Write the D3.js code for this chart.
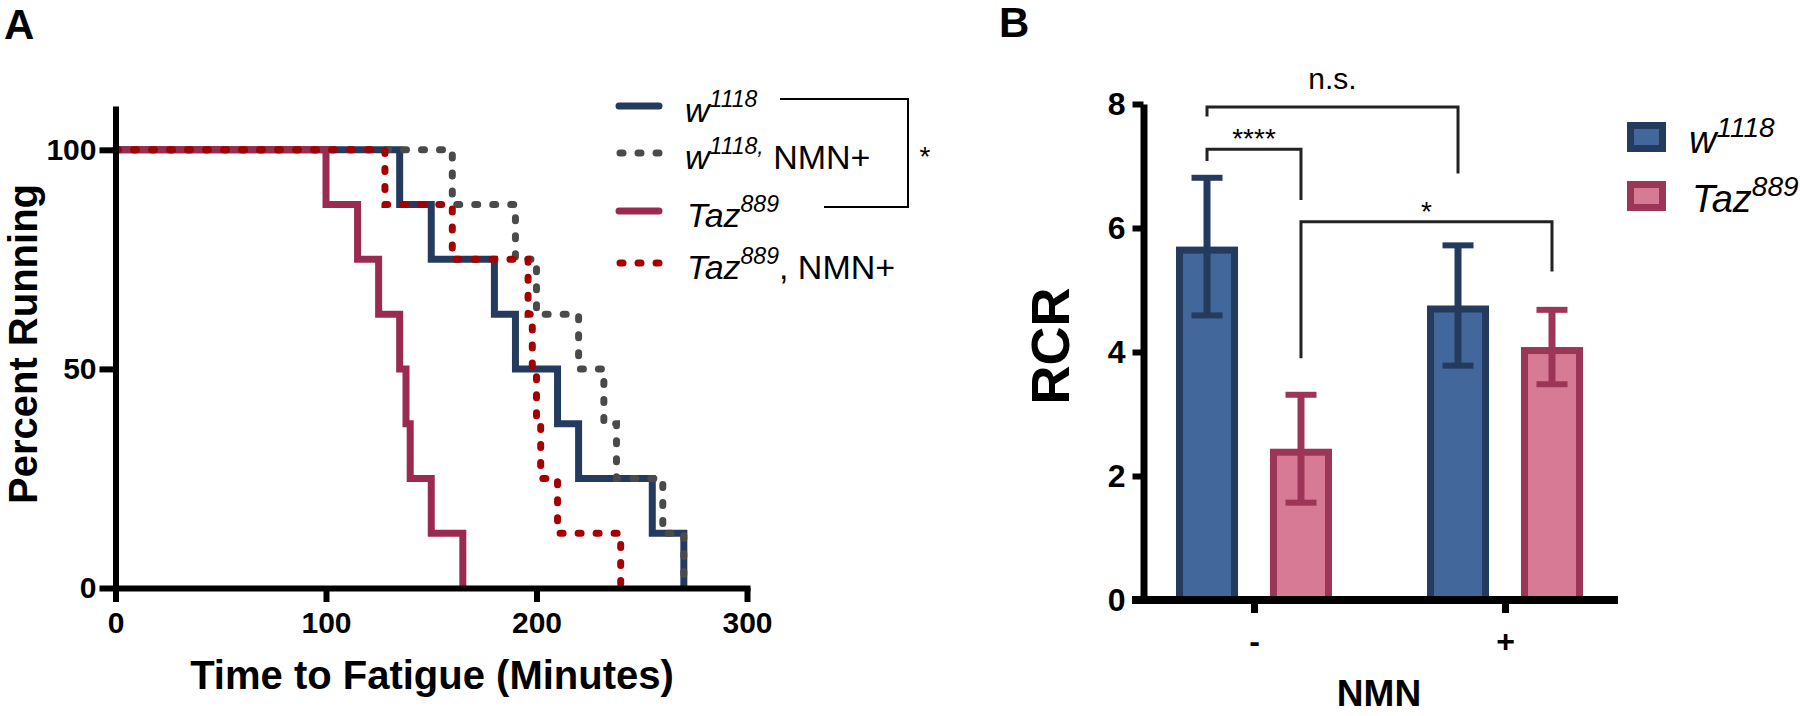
<!DOCTYPE html>
<html><head><meta charset="utf-8">
<script src="https://cdn.jsdelivr.net/npm/d3@7"></script>
<style>
body{margin:0;background:#fff}
svg{display:block}
text{font-family:"Liberation Sans",Arial,Helvetica,sans-serif;fill:#000}
</style>
</head><body>
<script>
// ---------- Panel A data (Kaplan-Meier, n = 8 per group) ----------
const survNames = ["w1118", "w1118, NMN+", "Taz889", "Taz889, NMN+"];
const w1118Times     = [0, 135, 150, 180, 190, 210, 220, 255, 270];
const w1118NmnTimes  = [0, 160, 190, 200, 220, 232, 238, 260, 270];
const taz889Times    = [0, 100, 115, 125, 135, 138, 140, 150, 165];
const taz889NmnTimes = [0, 128, 160, 196, 198, 200, 202, 210, 240];
const percentRunning = [100, 87.5, 75, 62.5, 50, 37.5, 25, 12.5, 0];
const xTicksA = [0, 100, 200, 300];
const yTicksA = [0, 50, 100];
const legendBase   = ["w", "w", "Taz", "Taz"];
const legendSup    = ["1118", "1118,", "889", "889"];
const legendSuffix = ["", " NMN+", "", ", NMN+"];

// ---------- Panel B data ----------
const nmnGroups = ["-", "+"];
const genotypes = ["w1118", "Taz889"];
const w1118Rcr  = [5.70, 4.75];
const w1118Err  = [1.11, 0.97];
const taz889Rcr = [2.44, 4.08];
const taz889Err = [0.87, 0.60];
const yTicksB = [0, 2, 4, 6, 8];
const legendBBase = ["w", "Taz"];
const legendBSup  = ["1118", "889"];
// significance brackets: [group1, geno1, group2, geno2]
const sigLabels = ["n.s.", "****", "*"];
const sigPairs = [["-", "w1118", "+", "w1118"], ["-", "w1118", "-", "Taz889"], ["-", "Taz889", "+", "Taz889"]];
const sigTop   = [7.95, 7.27, 6.10];
const sigLegL  = [7.80, 7.08, 3.90];
const sigLegR  = [6.88, 6.45, 5.30];

const svg = d3.select("body").append("svg").attr("width", 1800).attr("height", 716);
const FONT = '"Liberation Sans",Arial,Helvetica,sans-serif';

// =============== PANEL A ===============
const xA = d3.scaleLinear().domain([0, 300]).range([115.5, 747]);
const yA = d3.scaleLinear().domain([0, 110]).range([588, 106]);

const seriesA = [
  {times: w1118Times,     color: "#243b5f", dash: null},
  {times: taz889Times,    color: "#9b2a50", dash: null},
  {times: w1118NmnTimes,  color: "#4a4a4a", dash: "3,15"},
  {times: taz889NmnTimes, color: "#a50000", dash: "3,15"}
];
const lineA = d3.line().x(d => xA(d[0])).y(d => yA(d[1])).curve(d3.curveStepAfter);
seriesA.forEach(s => {
  const pts = s.times.map((t, i) => [t, percentRunning[i]]);
  svg.append("path").attr("d", lineA(pts))
    .attr("fill", "none").attr("stroke", s.color).attr("stroke-width", 7)
    .attr("stroke-linecap", s.dash ? "round" : "butt")
    .attr("stroke-linejoin", "miter")
    .attr("stroke-dasharray", s.dash);
});

// axes A
const gxA = svg.append("g").attr("transform", `translate(0,${yA(0)})`)
  .call(d3.axisBottom(xA).tickValues(xTicksA).tickSize(14).tickSizeOuter(0).tickPadding(10));
const gyA = svg.append("g").attr("transform", `translate(${xA(0)},0)`)
  .call(d3.axisLeft(yA).tickValues(yTicksA).tickSize(16).tickSizeOuter(0).tickPadding(3));
[gxA, gyA].forEach(g => {
  g.select(".domain").attr("stroke", "#000").attr("stroke-width", 6).attr("stroke-linecap", "square");
  g.selectAll(".tick line").attr("stroke", "#000").attr("stroke-width", 6);
  g.selectAll(".tick text").attr("fill", "#000").style("font-size", "30px").style("font-weight", "bold").style("font-family", FONT);
});
gyA.select(".domain").attr("stroke-linecap", "butt");

svg.append("text").attr("x", 4).attr("y", 39).style("font-size", "42px").style("font-weight", "bold").text("A");
svg.append("text").attr("transform", "translate(37,344) rotate(-90)").attr("text-anchor", "middle")
  .style("font-size", "40px").style("font-weight", "bold").text("Percent Running");
svg.append("text").attr("x", 432).attr("y", 689).attr("text-anchor", "middle")
  .style("font-size", "40px").style("font-weight", "bold").text("Time to Fatigue (Minutes)");

// legend A
const legRowsA = [106, 153, 211, 263];
const legColorsA = ["#243b5f", "#4a4a4a", "#9b2a50", "#a50000"];
const legDashA = [null, "3,15", null, "3,15"];
survNames.forEach((n, i) => {
  const y = legRowsA[i];
  svg.append("line").attr("x1", legDashA[i] ? 620 : 619).attr("x2", legDashA[i] ? 662 : 659)
    .attr("y1", y).attr("y2", y).attr("stroke", legColorsA[i]).attr("stroke-width", 7)
    .attr("stroke-linecap", "round").attr("stroke-dasharray", legDashA[i]);
  const t = svg.append("text").attr("x", i >= 2 ? 687 : 685).attr("y", y + 16).style("font-size", "34px");
  t.append("tspan").style("font-style", "italic").text(legendBase[i]);
  t.append("tspan").style("font-style", "italic").style("font-size", "23px").attr("dy", -15).text(legendSup[i]);
  if (legendSuffix[i]) t.append("tspan").attr("dy", 15).text(legendSuffix[i]);
});
svg.append("path").attr("d", "M780,99H908V207H824").attr("fill", "none").attr("stroke", "#000").attr("stroke-width", 2);
svg.append("text").attr("x", 925).attr("y", 166).attr("text-anchor", "middle").style("font-size", "28px").text("*");

// =============== PANEL B ===============
const yB = d3.scaleLinear().domain([0, 8]).range([600, 104]);
const xB = d3.scalePoint().domain(nmnGroups).range([1254, 1505]);
const xSub = d3.scaleBand().domain(genotypes).range([-78, 78]).paddingInner(0.34).paddingOuter(0);
const bw = xSub.bandwidth();
const valsB = {w1118: w1118Rcr, Taz889: taz889Rcr};
const errsB = {w1118: w1118Err, Taz889: taz889Err};
const fillB = {w1118: "#41679b", Taz889: "#d67a95"};
const strokeB = {w1118: "#243b5e", Taz889: "#9c3658"};
const SW = 7;

nmnGroups.forEach((g, gi) => {
  genotypes.forEach(geno => {
    const v = valsB[geno][gi], e = errsB[geno][gi];
    const x0 = xB(g) + xSub(geno);
    svg.append("rect").attr("x", x0 + SW / 2).attr("y", yB(v) + SW / 2)
      .attr("width", bw - SW).attr("height", yB(0) - yB(v) - SW / 2)
      .attr("fill", fillB[geno]).attr("stroke", strokeB[geno]).attr("stroke-width", SW);
    const cx = x0 + bw / 2;
    svg.append("line").attr("x1", cx).attr("x2", cx).attr("y1", yB(v + e)).attr("y2", yB(v - e))
      .attr("stroke", strokeB[geno]).attr("stroke-width", SW);
    [v + e, v - e].forEach(val => {
      svg.append("line").attr("x1", cx - 15.5).attr("x2", cx + 15.5).attr("y1", yB(val)).attr("y2", yB(val))
        .attr("stroke", strokeB[geno]).attr("stroke-width", 6);
    });
  });
});

// axes B
const gyB = svg.append("g").attr("transform", "translate(1143.5,0)")
  .call(d3.axisLeft(yB).tickValues(yTicksB).tickSize(11).tickSizeOuter(0).tickPadding(7));
gyB.select(".domain").attr("stroke", "#000").attr("stroke-width", 7);
gyB.selectAll(".tick line").attr("stroke", "#000").attr("stroke-width", 6);
gyB.selectAll(".tick text").attr("fill", "#000").style("font-size", "32px").style("font-weight", "bold").style("font-family", FONT);

svg.append("line").attr("x1", 1132).attr("x2", 1618).attr("y1", yB(0)).attr("y2", yB(0))
  .attr("stroke", "#000").attr("stroke-width", 8);
const gxB = svg.append("g").attr("transform", `translate(0,${yB(0)})`)
  .call(d3.axisBottom(xB).tickSize(13).tickSizeOuter(0).tickPadding(16));
gxB.select(".domain").remove();
gxB.selectAll(".tick line").attr("stroke", "#000").attr("stroke-width", 7);
gxB.selectAll(".tick text").attr("fill", "#000").style("font-size", "32px").style("font-weight", "bold").style("font-family", FONT);

svg.append("text").attr("x", 999).attr("y", 37).style("font-size", "42px").style("font-weight", "bold").text("B");
svg.append("text").attr("transform", "translate(1069,346) rotate(-90)").attr("text-anchor", "middle")
  .style("font-size", "54px").style("font-weight", "bold").text("RCR");
svg.append("text").attr("x", 1379).attr("y", 706).attr("text-anchor", "middle")
  .style("font-size", "37px").style("font-weight", "bold").text("NMN");

// significance brackets
sigPairs.forEach((p, i) => {
  const xl = xB(p[0]) + xSub(p[1]) + bw / 2;
  const xr = xB(p[2]) + xSub(p[3]) + bw / 2;
  svg.append("path")
    .attr("d", `M${xl},${yB(sigLegL[i])}V${yB(sigTop[i])}H${xr}V${yB(sigLegR[i])}`)
    .attr("fill", "none").attr("stroke", "#222").attr("stroke-width", 3);
  const isAst = sigLabels[i] !== "n.s.";
  svg.append("text").attr("x", (xl + xr) / 2)
    .attr("y", isAst ? yB(sigTop[i]) - 1 : yB(sigTop[i]) - 18)
    .attr("text-anchor", "middle").style("font-size", isAst ? "28px" : "30px").text(sigLabels[i]);
});

// legend B
const legRowsB = [122, 181];
genotypes.forEach((geno, i) => {
  const y = legRowsB[i];
  svg.append("rect").attr("x", 1627 + SW / 2).attr("y", y + SW / 2).attr("width", 39 - SW).attr("height", 30 - SW)
    .attr("fill", fillB[geno]).attr("stroke", strokeB[geno]).attr("stroke-width", SW);
  const t = svg.append("text").attr("x", i === 0 ? 1689 : 1692).attr("y", y + 31).style("font-size", "38px");
  t.append("tspan").style("font-style", "italic").text(legendBBase[i]);
  t.append("tspan").style("font-style", "italic").style("font-size", "28px").attr("dy", -16).text(legendBSup[i]);
});
</script>
</body></html>
